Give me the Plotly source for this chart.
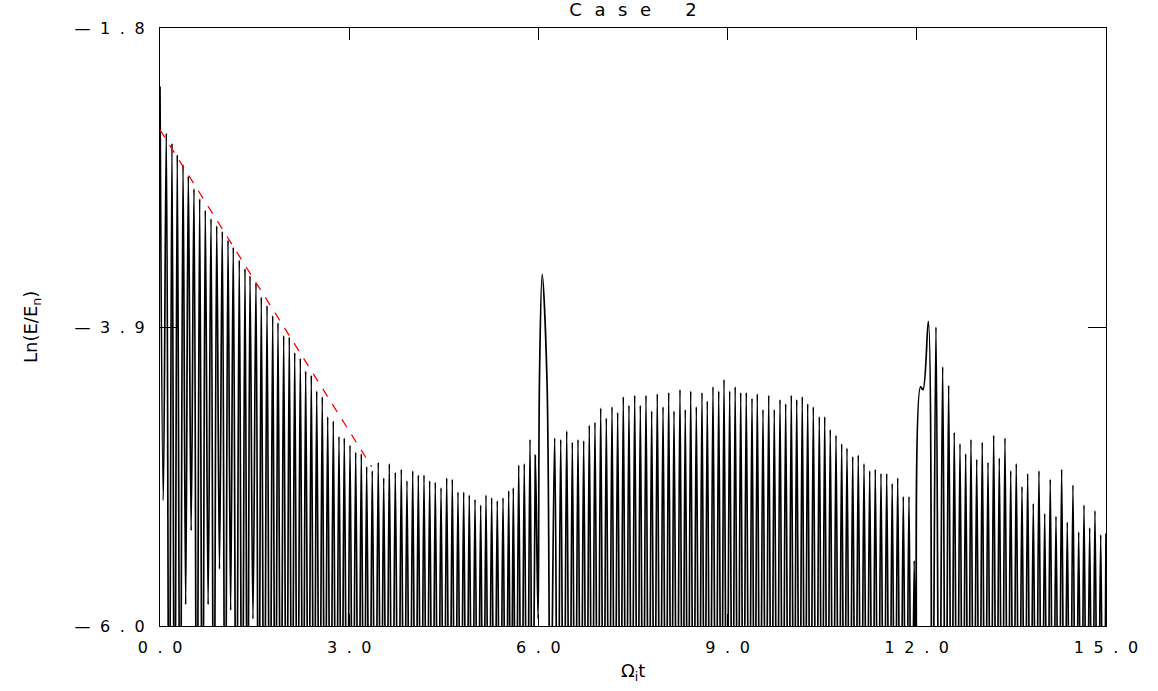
import plotly.graph_objects as go

# ---------------- data ----------------
# signal maxima (time, ln(E/En))
peak_t = [0.100, 0.190, 0.274, 0.365, 0.449, 0.539, 0.629, 0.718, 0.809, 0.899,
          0.988, 1.078, 1.162, 1.257, 1.348, 1.427, 1.522, 1.606, 1.697, 1.787,
          1.871, 1.961, 2.050, 2.136, 2.225, 2.310, 2.399, 2.485, 2.573, 2.659,
          2.748, 2.838, 2.922, 3.013, 3.103, 3.192, 3.277, 3.366, 3.461, 3.547,
          3.636, 3.731, 3.826, 3.916, 4.007, 4.096, 4.186, 4.276, 4.365, 4.456,
          4.546, 4.635, 4.725, 4.815, 4.904, 4.995, 5.085, 5.169, 5.259, 5.348,
          5.439, 5.529, 5.602, 5.688, 5.776, 5.867, 5.951, 6.060, 6.258, 6.354,
          6.449, 6.538, 6.628, 6.718, 6.807, 6.897, 6.988, 7.077, 7.167, 7.257,
          7.346, 7.436, 7.527, 7.616, 7.706, 7.796, 7.885, 7.976, 8.066, 8.150,
          8.245, 8.329, 8.415, 8.504, 8.594, 8.678, 8.768, 8.859, 8.943, 9.033,
          9.120, 9.208, 9.296, 9.387, 9.471, 9.561, 9.652, 9.740, 9.831, 9.921,
          10.010, 10.096, 10.184, 10.270, 10.359, 10.454, 10.540, 10.628, 10.719, 10.809,
          10.893, 10.984, 11.072, 11.163, 11.253, 11.342, 11.432, 11.523, 11.610, 11.697,
          11.786, 11.876, 11.959, 12.183, 12.304, 12.410, 12.505, 12.594, 12.685, 12.775,
          12.859, 12.950, 13.038, 13.129, 13.219, 13.308, 13.398, 13.489, 13.577, 13.668,
          13.758, 13.847, 13.937, 14.028, 14.116, 14.207, 14.297, 14.386, 14.476, 14.567,
          14.651, 14.741, 14.825, 14.916]
peak_v = [-2.54, -2.61, -2.69, -2.76, -2.84, -2.93, -3.00, -3.08, -3.14, -3.19,
          -3.23, -3.29, -3.34, -3.43, -3.49, -3.54, -3.59, -3.69, -3.75, -3.82,
          -3.87, -3.96, -3.97, -4.08, -4.12, -4.21, -4.24, -4.35, -4.39, -4.53,
          -4.56, -4.67, -4.68, -4.73, -4.78, -4.79, -4.88, -4.91, -4.85, -4.96,
          -4.86, -4.92, -4.90, -4.98, -4.91, -4.94, -4.94, -4.98, -4.99, -5.03,
          -4.96, -4.97, -5.06, -5.06, -5.08, -5.11, -5.15, -5.08, -5.10, -5.12,
          -5.10, -5.05, -5.03, -4.87, -4.86, -4.69, -4.80, -3.53, -4.68, -4.69,
          -4.63, -4.71, -4.69, -4.70, -4.59, -4.57, -4.47, -4.54, -4.46, -4.50,
          -4.39, -4.45, -4.38, -4.45, -4.38, -4.49, -4.37, -4.46, -4.36, -4.49,
          -4.34, -4.48, -4.35, -4.46, -4.36, -4.42, -4.32, -4.35, -4.27, -4.35,
          -4.32, -4.36, -4.36, -4.40, -4.37, -4.48, -4.38, -4.48, -4.41, -4.44,
          -4.38, -4.41, -4.39, -4.44, -4.46, -4.53, -4.53, -4.62, -4.66, -4.72,
          -4.75, -4.81, -4.80, -4.86, -4.91, -4.90, -4.93, -4.93, -5.00, -4.96,
          -5.09, -5.09, -5.54, -3.86, -3.90, -4.18, -4.31, -4.64, -4.72, -4.79,
          -4.69, -4.83, -4.71, -4.85, -4.66, -4.82, -4.68, -4.91, -4.86, -5.02,
          -4.93, -5.14, -4.91, -5.21, -4.97, -5.23, -4.90, -5.27, -5.01, -5.34,
          -5.15, -5.31, -5.19, -5.36]

# minima that stay inside the plotted range (or just below it)
trough_t = [0.052, 0.407, 0.494, 0.763, 0.943, 1.120, 1.474, 5.995, 6.190]
trough_v = [-5.12, -5.85, -5.33, -5.85, -5.60, -5.89, -5.95, -5.95, -7.00]

# minima that fall far below the plotted range (value estimated)
deep_trough_v = -7.5
deep_trough_t = [0.145, 0.232, 0.320, 0.584, 0.674, 0.854, 1.033, 1.210, 1.302, 1.388,
                 1.564, 1.652, 1.742, 1.829, 1.916, 2.006, 2.093, 2.180, 2.268, 2.355,
                 2.442, 2.529, 2.616, 2.704, 2.793, 2.880, 2.968, 3.058, 3.148, 3.235,
                 3.322, 3.414, 3.504, 3.592, 3.684, 3.779, 3.871, 3.962, 4.052, 4.141,
                 4.231, 4.321, 4.411, 4.501, 4.591, 4.680, 4.770, 4.860, 4.950, 5.040,
                 5.127, 5.214, 5.304, 5.394, 5.484, 5.566, 5.645, 5.732, 5.822, 5.909,
                 6.306, 6.402, 6.494, 6.583, 6.673, 6.763, 6.852, 6.943, 7.033, 7.122,
                 7.212, 7.302, 7.391, 7.482, 7.572, 7.661, 7.751, 7.841, 7.931, 8.021,
                 8.108, 8.198, 8.287, 8.372, 8.460, 8.549, 8.636, 8.723, 8.814, 8.901,
                 8.988, 9.077, 9.164, 9.252, 9.342, 9.429, 9.516, 9.607, 9.696, 9.786,
                 9.876, 9.966, 10.053, 10.140, 10.227, 10.315, 10.407, 10.497, 10.584, 10.674,
                 10.764, 10.851, 10.939, 11.028, 11.118, 11.208, 11.298, 11.387, 11.478, 11.567,
                 11.654, 11.742, 11.831, 11.918, 12.005, 12.244, 12.357, 12.458, 12.550, 12.640,
                 12.730, 12.817, 12.905, 12.994, 13.084, 13.174, 13.264, 13.353, 13.444, 13.533,
                 13.623, 13.713, 13.803, 13.892, 13.983, 14.072, 14.162, 14.252, 14.342, 14.431,
                 14.522, 14.609, 14.696, 14.783, 14.871, 14.958]

# other points of the curve: start, flanks of the t~6 burst,
# shoulder before the t~12 burst, end
extra_t = [0.000, 6.017, 6.136, 12.060, 12.098, 15.000]
extra_v = [-2.21, -4.27, -4.27, -4.32, -4.34, -5.35]

# red dashed exponential-decay fit
fit_t = [0.0, 3.357]
fit_v = [-2.515, -4.882]

x_tickvals = [0.0, 3.0, 6.0, 9.0, 12.0, 15.0]
x_ticktext = ["0.0", "3.0", "6.0", "9.0", "12.0", "15.0"]
y_tickvals = [-1.8, -3.9, -6.0]
y_ticktext = ["−1.8", "−3.9", "−6.0"]

title_text = "Case 2"
x_title = "Ω<sub>i</sub>t"
y_title = "Ln(E/E<sub>n</sub>)"

# ---------------- assemble curve ----------------
pts = list(zip(peak_t, peak_v)) + list(zip(trough_t, trough_v)) \
    + [(t, deep_trough_v) for t in deep_trough_t] + list(zip(extra_t, extra_v))
pts.sort(key=lambda p: p[0])
sig_t = [p[0] for p in pts]
sig_v = [p[1] for p in pts]

SEP = "\u2002\u200a"
FAMILY = "DejaVu Sans, sans-serif"


def spaced(s, sep=SEP):
    return sep.join("\u2014" if c == "−" else ("\u2002" if c == " " else c) for c in s)


FONT = dict(family=FAMILY, size=16, color="black")

fig = go.Figure()
fig.add_trace(go.Scatter(x=sig_t, y=sig_v, mode="lines",
                         line=dict(color="black", width=1.7, shape="spline"),
                         hoverinfo="skip", showlegend=False))
fig.add_trace(go.Scatter(x=fit_t, y=fit_v, mode="lines",
                         line=dict(color="#ff0000", width=1.3, dash="9px,9px"),
                         hoverinfo="skip", showlegend=False))

fig.update_layout(
    width=1158, height=691,
    margin=dict(l=160, r=52, t=28, b=65),
    paper_bgcolor="white", plot_bgcolor="white",
    font=FONT,
    showlegend=False,
    title=dict(text=spaced(title_text, "\u2002\u2009"), x=0.5, xref="paper",
               xanchor="center", y=1 - 10 / 691, yref="container", yanchor="middle",
               font=dict(family=FAMILY, size=18, color="black")),
)
fig.update_xaxes(range=[0, 15], tickvals=x_tickvals, ticktext=[spaced(s) for s in x_ticktext],
                 ticks="inside", ticklen=12, tickwidth=1.2, tickcolor="black",
                 showline=True, linecolor="black", linewidth=1.3, mirror="ticks",
                 showgrid=False, zeroline=False, ticklabelstandoff=7,
                 tickfont=FONT)
fig.update_yaxes(range=[-6.0, -1.8], tickvals=y_tickvals, ticktext=[spaced(s) for s in y_ticktext],
                 ticks="inside", ticklen=18, tickwidth=1.2, tickcolor="black",
                 showline=True, linecolor="black", linewidth=1.3, mirror="ticks",
                 showgrid=False, zeroline=False, ticklabelstandoff=11,
                 tickfont=FONT)

fig.add_annotation(text=x_title, xref="paper", yref="paper", x=0.5, y=0, yshift=-46,
                   xanchor="center", yanchor="middle", showarrow=False,
                   font=dict(family=FAMILY, size=18, color="black"))
fig.add_annotation(text=y_title, xref="paper", yref="paper", x=0, y=0.5, xshift=-128,
                   xanchor="center", yanchor="middle", textangle=-90, showarrow=False,
                   font=dict(family=FAMILY, size=18, color="black"))

fig.write_html("out.html")
